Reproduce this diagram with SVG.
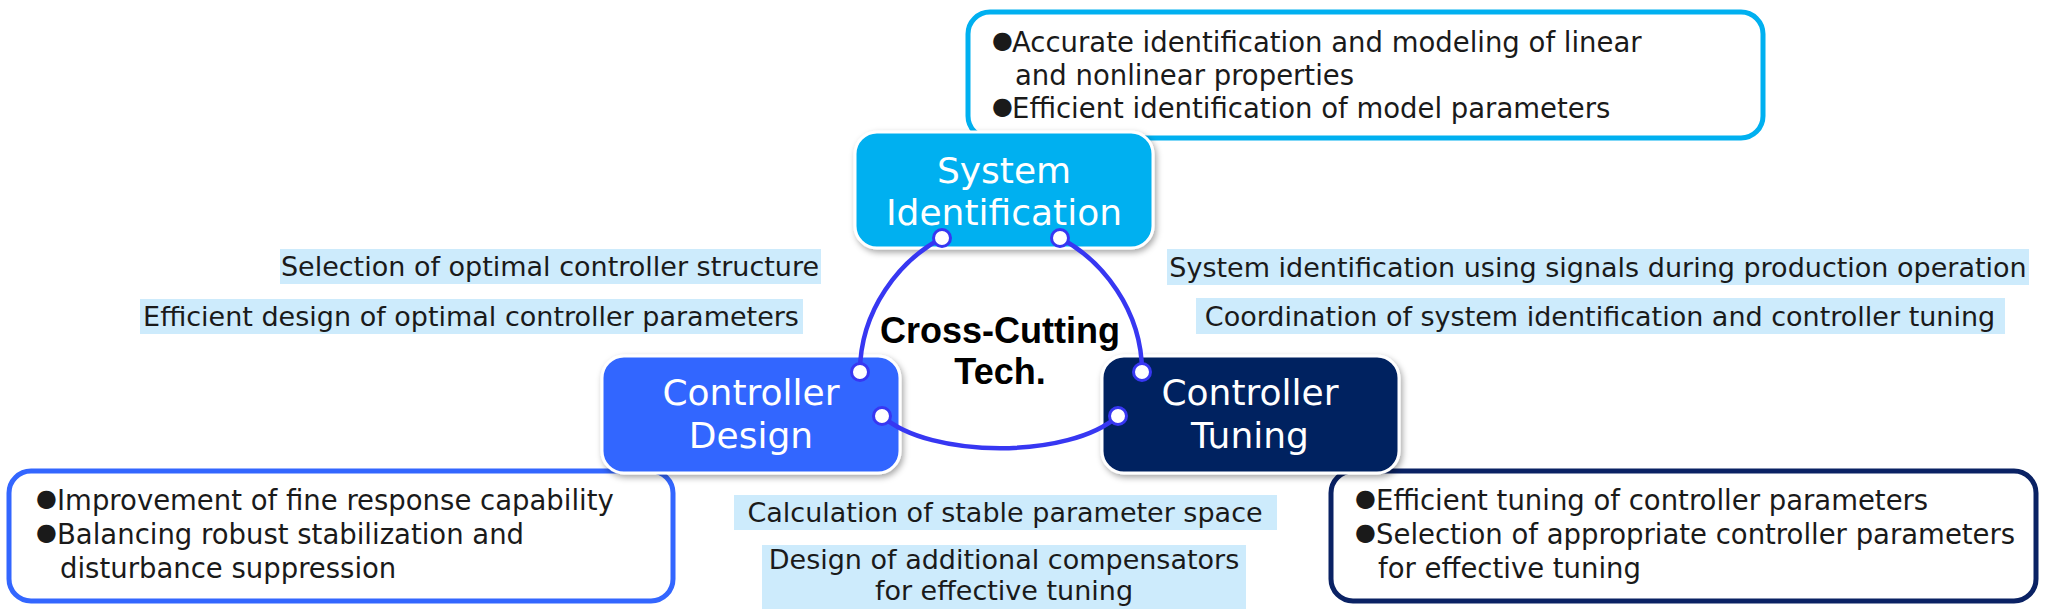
<svg xmlns="http://www.w3.org/2000/svg" width="2048" height="615" viewBox="0 0 2048 615">
<defs>
<filter id="sh" x="-10%" y="-10%" width="125%" height="130%">
<feDropShadow dx="2" dy="3" stdDeviation="3" flood-color="#000" flood-opacity="0.35"/>
</filter>
</defs>
<style>
text{font-family:"DejaVu Sans","Liberation Sans",sans-serif;}
.t{font-size:27.5px;fill:#1a1a1a;}
.lbl{font-size:27px;fill:#1a1a1a;text-anchor:middle;}
.bul{font-size:24px;}
.nt{font-size:36px;fill:#fff;text-anchor:middle;}
.bg{fill:#CDEBFC;}
.box{fill:#fff;stroke-width:5;}
.node{stroke:#fff;stroke-width:3;filter:url(#sh);}
.conn{fill:none;stroke:#3737F2;stroke-width:4.5;}
.dot{fill:#fff;stroke:#3737F2;stroke-width:3;}
.ctr{font-family:"Liberation Sans",Arial,sans-serif;font-weight:bold;font-size:36px;fill:#000;text-anchor:middle;}
</style>

<g id="detail-sysid">
<rect class="box" x="968" y="12" width="795" height="126" rx="22" stroke="#00B0F0"/>
<text class="t" y="52"><tspan class="bul" x="992" dy="-4">●</tspan><tspan x="1012" dy="4">Accurate identification and modeling of linear</tspan></text>
<text class="t" x="1015" y="85">and nonlinear properties</text>
<text class="t" y="118"><tspan class="bul" x="992" dy="-4">●</tspan><tspan x="1012" dy="4">Efficient identification of model parameters</tspan></text>
</g>

<g id="detail-design">
<rect class="box" x="9" y="471" width="664" height="130" rx="22" stroke="#3366FF"/>
<text class="t" y="510"><tspan class="bul" x="36" dy="-4">●</tspan><tspan x="57" dy="4">Improvement of fine response capability</tspan></text>
<text class="t" y="544"><tspan class="bul" x="36" dy="-4">●</tspan><tspan x="57" dy="4">Balancing robust stabilization and</tspan></text>
<text class="t" x="60" y="578">disturbance suppression</text>
</g>

<g id="detail-tuning">
<rect class="box" x="1331" y="471" width="705" height="130" rx="22" stroke="#0A2264"/>
<text class="t" y="510"><tspan class="bul" x="1355" dy="-4">●</tspan><tspan x="1376" dy="4">Efficient tuning of controller parameters</tspan></text>
<text class="t" y="544"><tspan class="bul" x="1355" dy="-4">●</tspan><tspan x="1376" dy="4">Selection of appropriate controller parameters</tspan></text>
<text class="t" x="1378" y="578">for effective tuning</text>
</g>

<g id="label-structure">
<rect class="bg" x="280" y="249" width="541" height="35"/>
<text class="lbl" x="550" y="276">Selection of optimal controller structure</text>
</g>
<g id="label-params">
<rect class="bg" x="140" y="299" width="663" height="35"/>
<text class="lbl" x="471" y="326">Efficient design of optimal controller parameters</text>
</g>
<g id="label-signals">
<rect class="bg" x="1167" y="249" width="862" height="36"/>
<text class="lbl" x="1598" y="277">System identification using signals during production operation</text>
</g>
<g id="label-coord">
<rect class="bg" x="1196" y="298" width="809" height="36"/>
<text class="lbl" x="1600" y="326">Coordination of system identification and controller tuning</text>
</g>
<g id="label-stable">
<rect class="bg" x="734" y="495" width="543" height="35"/>
<text class="lbl" x="1005" y="522">Calculation of stable parameter space</text>
</g>
<g id="label-compensators">
<rect class="bg" x="762" y="545" width="484" height="64"/>
<text class="lbl" x="1004" y="569">Design of additional compensators</text>
<text class="lbl" x="1004" y="600">for effective tuning</text>
</g>

<g id="node-sysid">
<rect class="node" x="855" y="132" width="298" height="116" rx="22" fill="#00B0F0"/>
<text class="nt" x="1004" y="183">System</text>
<text class="nt" x="1004" y="225">Identification</text>
</g>
<g id="node-design">
<rect class="node" x="602" y="356" width="298" height="117" rx="22" fill="#3366FF"/>
<text class="nt" x="751" y="405">Controller</text>
<text class="nt" x="751" y="448">Design</text>
</g>
<g id="node-tuning">
<rect class="node" x="1102" y="356" width="297" height="117" rx="22" fill="#002060"/>
<text class="nt" x="1250" y="405">Controller</text>
<text class="nt" x="1250" y="448">Tuning</text>
</g>

<g id="center-label">
<text class="ctr" x="1000" y="343">Cross-Cutting</text>
<text class="ctr" x="1000" y="384">Tech.</text>
</g>

<g id="connectors">
<path class="conn" d="M942,238 C900,260 860,310 860,372"/>
<path class="conn" d="M1060,238 C1102,260 1142,310 1142,372"/>
<path class="conn" d="M882,416 C930,459 1070,459 1118,416"/>
<circle class="dot" cx="942" cy="238" r="8.5"/>
<circle class="dot" cx="1060" cy="238" r="8.5"/>
<circle class="dot" cx="860" cy="372" r="8.5"/>
<circle class="dot" cx="882" cy="416" r="8.5"/>
<circle class="dot" cx="1142" cy="372" r="8.5"/>
<circle class="dot" cx="1118" cy="416" r="8.5"/>
</g>
</svg>
